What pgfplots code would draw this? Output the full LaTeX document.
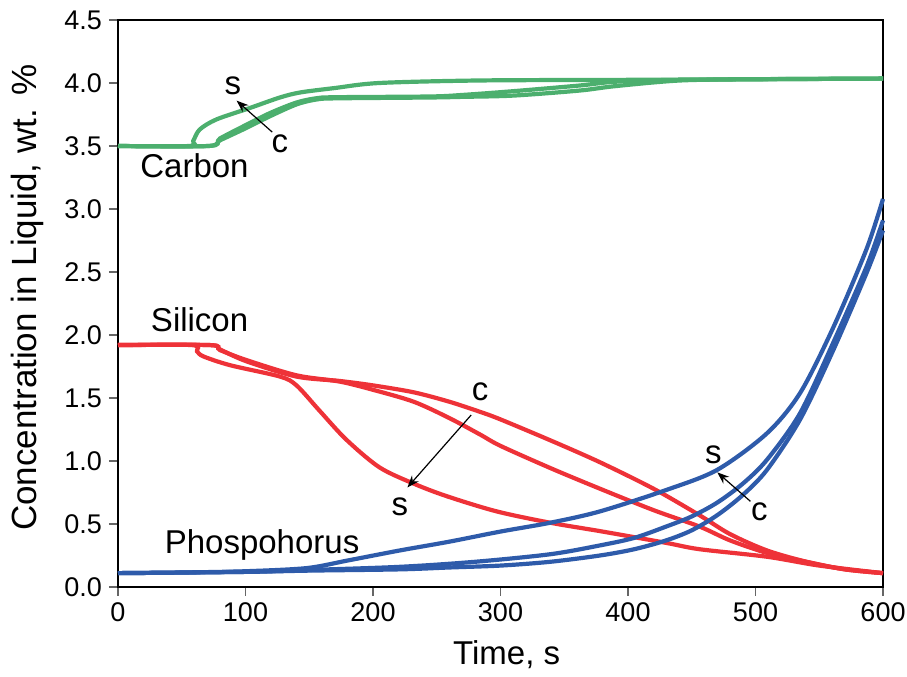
\documentclass[border=0pt]{standalone}
\usepackage{fontspec}
\setmainfont{Liberation Sans}
\usepackage{pgfplots}
\pgfplotsset{compat=1.18}
\usetikzlibrary{arrows.meta}
\definecolor{cg}{RGB}{76,175,110}
\definecolor{cr}{RGB}{238,50,56}
\definecolor{cb}{RGB}{46,91,170}
\begin{document}
\begin{tikzpicture}
\begin{axis}[name=ax,
  scale only axis, width=382.5pt, height=283.5pt,
  xmin=0, xmax=600, ymin=0, ymax=4.5,
  xtick={0,100,...,600}, ytick={0,0.5,...,4.5},
  tick align=outside, xtick pos=bottom, ytick pos=left,
  major tick length=4.5pt,
  tick style={black!60, line width=0.6pt},
  axis line style={line width=1.1pt},
  clip=false,
  /pgf/number format/assume math mode=true,
  yticklabel style={/pgf/number format/fixed, /pgf/number format/fixed zerofill, /pgf/number format/precision=1, font=\fontsize{13.5}{14}\selectfont},
  xticklabel style={font=\fontsize{13.5}{14}\selectfont},
  xlabel={Time, s}, ylabel={Concentration in Liquid, wt. \%},
  xlabel style={font=\fontsize{16.5}{18}\selectfont, at={(axis description cs:0.508,-0.12)}, anchor=center},
  ylabel style={font=\fontsize{17.5}{18}\selectfont, at={(axis description cs:-0.119,0.51)}, anchor=center},
  every axis plot/.append style={line width=2.1pt, smooth, tension=0.5},
]
% Carbon
\addplot[cg] coordinates {(0,3.5)(56,3.5)(59,3.54)(64,3.63)(77,3.71)(103,3.80)(127,3.885)(143,3.925)(170,3.96)(205,4.0)(284,4.02)(400,4.025)(500,4.03)(600,4.035)};
\addplot[cg] coordinates {(0,3.5)(71,3.5)(80,3.56)(100,3.665)(120,3.765)(140,3.845)(155,3.878)(170,3.887)(245,3.893)(270,3.905)(310,3.935)(362,3.98)(390,4.01)(440,4.025)(600,4.035)};
\addplot[cg] coordinates {(0,3.5)(71,3.5)(80,3.545)(100,3.64)(120,3.74)(140,3.83)(155,3.868)(170,3.878)(245,3.885)(270,3.89)(310,3.90)(362,3.94)(390,3.975)(441,4.02)(500,4.03)(600,4.035)};
% Silicon
\addplot[cr] coordinates {(0,1.92)(58,1.92)(62,1.87)(67,1.83)(88,1.76)(127,1.67)(140,1.60)(158,1.40)(179,1.17)(205,0.95)(232,0.82)(258,0.72)(297,0.60)(339,0.51)(380,0.44)(430,0.35)(456,0.30)(509,0.24)(550,0.17)(600,0.11)};
\addplot[cr] coordinates {(0,1.92)(72,1.92)(80,1.88)(101,1.80)(140,1.68)(174,1.63)(200,1.565)(232,1.47)(260,1.34)(284,1.21)(300,1.12)(340,0.94)(378,0.78)(420,0.61)(456,0.48)(480,0.37)(509,0.27)(540,0.20)(570,0.14)(600,0.11)};
\addplot[cr] coordinates {(0,1.92)(72,1.92)(80,1.885)(101,1.79)(140,1.67)(174,1.635)(200,1.60)(232,1.545)(260,1.47)(284,1.39)(300,1.33)(340,1.16)(378,0.99)(420,0.78)(456,0.57)(480,0.42)(509,0.29)(540,0.20)(570,0.14)(600,0.11)};
% Phosphorus
\addplot[cb] coordinates {(0,0.11)(50,0.115)(100,0.125)(148,0.15)(180,0.21)(221,0.29)(260,0.36)(300,0.44)(339,0.51)(378,0.60)(430,0.77)(470,0.93)(509,1.22)(535,1.54)(561,2.06)(587,2.68)(600,3.08)};
\addplot[cb] coordinates {(0,0.11)(100,0.12)(150,0.135)(221,0.16)(280,0.20)(339,0.26)(378,0.33)(405,0.39)(430,0.48)(450,0.56)(470,0.67)(490,0.82)(509,1.01)(535,1.38)(561,1.94)(587,2.54)(600,2.91)};
\addplot[cb] coordinates {(0,0.11)(100,0.12)(150,0.13)(221,0.14)(260,0.155)(300,0.17)(339,0.20)(378,0.25)(405,0.30)(430,0.37)(450,0.45)(470,0.57)(490,0.73)(509,0.93)(535,1.33)(561,1.88)(587,2.49)(600,2.83)};
% labels
\tikzset{lab/.style={font=\fontsize{16.5}{18}\selectfont, inner sep=0pt}}
\node[lab] at (axis cs:60,3.34) {Carbon};
\node[lab] at (axis cs:64,2.12) {Silicon};
\node[lab] at (axis cs:113,0.33) {Phospohorus};
\node[lab] at (axis cs:90,3.98) {s};
\node[lab] at (axis cs:127,3.52) {c};
\node[lab] at (axis cs:284,1.55) {c};
\node[lab] at (axis cs:221,0.64) {s};
\node[lab] at (axis cs:467,1.05) {s};
\node[lab] at (axis cs:503,0.60) {c};
\tikzset{arr/.style={line width=0.6pt, -{Stealth[length=6pt,width=4.5pt]}}}
\draw[arr] (axis cs:121,3.61) -- (axis cs:93,3.86);
\draw[arr] (axis cs:277,1.365) -- (axis cs:227,0.79);
\draw[arr] (axis cs:496,0.68) -- (axis cs:470,0.91);
\end{axis}
\pgfresetboundingbox
\path[use as bounding box] ([xshift=-59pt,yshift=-45pt]ax.south west) rectangle ([xshift=12pt,yshift=10pt]ax.north east);
\end{tikzpicture}
\end{document}
